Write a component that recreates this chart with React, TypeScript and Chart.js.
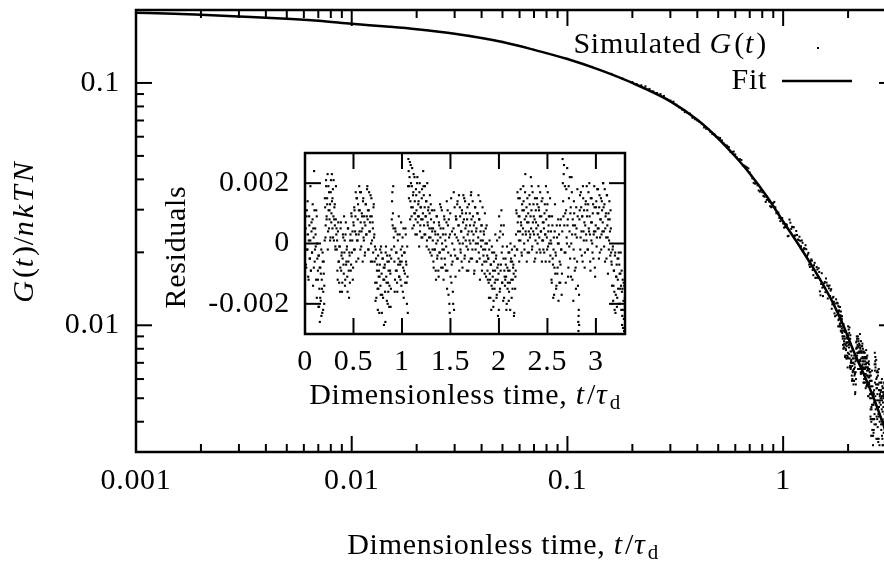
import React, { useEffect, useRef } from "react";
import { Chart, registerables } from "chart.js";

Chart.register(...registerables);

// ---- main panel: relaxation modulus and its fit (log-log) ----
const xTickValues = [0.001, 0.01, 0.1, 1];
const xTickLabels = ["0.001", "0.01", "0.1", "1"];
const yTickValues = [0.01, 0.1];
const yTickLabels = ["0.01", "0.1"];

// fitted curve, (t/τd, G/nkTN)
const fitTime = [
  0.001, 0.0015, 0.002, 0.003, 0.005, 0.007, 0.01, 0.015, 0.02, 0.03, 0.05, 0.07, 0.1, 0.14, 0.2, 0.3,
  0.4, 0.5, 0.6, 0.7, 0.85, 1.0, 1.2, 1.45, 1.7, 1.9, 2.1, 2.4, 2.7, 3.0, 3.3,
];
const fitValue = [
  0.195, 0.193, 0.191, 0.188, 0.184, 0.1805, 0.1755, 0.1705, 0.1665, 0.1595, 0.1475, 0.137, 0.1255, 0.1135,
  0.1, 0.084, 0.0705, 0.059, 0.0497, 0.0423, 0.0335, 0.0268, 0.021, 0.016, 0.0124, 0.01, 0.008, 0.0061,
  0.0047, 0.0036, 0.0027,
];

// simulated modulus, (t/τd, G/nkTN): sample set 1
const simulatedSet1: [number, number][] = [
  [0.001, 0.1948], [0.002, 0.1912], [0.004, 0.1858], [0.007, 0.1807], [0.012, 0.1733], [0.02, 0.1668],
  [0.035, 0.1566], [0.05, 0.1478], [0.07, 0.1368], [0.1, 0.1258], [0.13, 0.1165], [0.16, 0.109], [0.18, 0.1042],
  [0.2, 0.1008], [0.22, 0.0978], [0.24, 0.0945], [0.26, 0.0909], [0.28, 0.0884], [0.3, 0.0846], [0.32, 0.0813],
  [0.34, 0.0776], [0.36, 0.0752], [0.38, 0.0718], [0.4, 0.07], [0.42, 0.0679], [0.44, 0.0647], [0.46, 0.0628],
  [0.48, 0.0614], [0.5, 0.0596], [0.52, 0.0579], [0.54, 0.0555], [0.56, 0.0544], [0.58, 0.0519], [0.6, 0.0507],
  [0.62, 0.0484], [0.64, 0.0481], [0.66, 0.0456], [0.68, 0.0448], [0.7, 0.0427], [0.72, 0.0404], [0.74, 0.0384],
  [0.76, 0.0378], [0.78, 0.0356], [0.8, 0.0354], [0.82, 0.0339], [0.84, 0.0329], [0.86, 0.0324], [0.88, 0.0307],
  [0.9, 0.032], [0.92, 0.0307], [0.94, 0.0291], [0.96, 0.0277], [0.98, 0.0275], [1.0, 0.0263],
  [1.02, 0.0254], [1.04, 0.026], [1.06, 0.0234], [1.08, 0.0265], [1.1, 0.0255], [1.12, 0.0254], [1.14, 0.0235],
  [1.16, 0.0236], [1.18, 0.0225], [1.2, 0.0223], [1.22, 0.0224], [1.24, 0.0204], [1.26, 0.0207], [1.28, 0.0206],
  [1.3, 0.0196], [1.32, 0.0178], [1.34, 0.0184], [1.36, 0.0185], [1.38, 0.0161], [1.4, 0.0181], [1.42, 0.0157],
  [1.44, 0.017], [1.46, 0.0172], [1.48, 0.0138], [1.5, 0.0148], [1.52, 0.0143], [1.54, 0.0144], [1.56, 0.0151],
  [1.58, 0.0156], [1.6, 0.0146], [1.62, 0.0145], [1.64, 0.0146], [1.66, 0.0139], [1.68, 0.0117], [1.7, 0.013],
  [1.72, 0.0125], [1.74, 0.0109], [1.76, 0.0128], [1.78, 0.0124], [1.8, 0.0099],
  [1.81, 0.0114], [1.82, 0.0115], [1.83, 0.0101], [1.84, 0.0102], [1.85, 0.0095], [1.86, 0.0109], [1.87, 0.0097],
  [1.88, 0.0093], [1.89, 0.0088], [1.9, 0.0098], [1.91, 0.0081], [1.92, 0.0084], [1.93, 0.0094], [1.94, 0.0075],
  [1.95, 0.008], [1.96, 0.0085], [1.97, 0.0089], [1.98, 0.0075], [1.99, 0.0067], [2.0, 0.0099], [2.01, 0.0073],
  [2.02, 0.0081], [2.03, 0.0098], [2.04, 0.0067], [2.05, 0.0091], [2.06, 0.007], [2.07, 0.0072], [2.08, 0.0062],
  [2.09, 0.0068], [2.1, 0.0064], [2.11, 0.007], [2.12, 0.0057], [2.13, 0.0066], [2.14, 0.0062], [2.15, 0.0067],
  [2.16, 0.0053], [2.17, 0.0064], [2.18, 0.0085], [2.19, 0.0081], [2.2, 0.0088], [2.21, 0.0081], [2.22, 0.009],
  [2.23, 0.0077], [2.24, 0.0082], [2.25, 0.0084], [2.26, 0.0069], [2.27, 0.0092], [2.28, 0.008], [2.29, 0.0064],
  [2.3, 0.0077], [2.31, 0.0082], [2.32, 0.0068], [2.33, 0.0084], [2.34, 0.0071], [2.35, 0.0077], [2.36, 0.0066],
  [2.37, 0.0058], [2.38, 0.0073], [2.39, 0.0077], [2.4, 0.0067], [2.41, 0.0073], [2.42, 0.0069], [2.43, 0.0056],
  [2.44, 0.0073], [2.45, 0.0065], [2.46, 0.0056], [2.47, 0.0067], [2.48, 0.0051], [2.49, 0.0058], [2.5, 0.0069],
  [2.51, 0.0061], [2.52, 0.0064], [2.53, 0.005], [2.54, 0.0042], [2.55, 0.0062], [2.56, 0.0035], [2.57, 0.0045],
  [2.58, 0.0065], [2.59, 0.0037], [2.6, 0.0041], [2.61, 0.0032], [2.62, 0.0053], [2.63, 0.0037], [2.64, 0.0048],
  [2.65, 0.0039], [2.66, 0.0077], [2.67, 0.0071], [2.68, 0.0067], [2.69, 0.0049], [2.7, 0.0072], [2.71, 0.0055],
  [2.72, 0.0061], [2.73, 0.0041], [2.74, 0.0057], [2.75, 0.0062], [2.76, 0.0033], [2.77, 0.0042], [2.78, 0.0054],
  [2.79, 0.0028], [2.8, 0.0048], [2.81, 0.0052], [2.82, 0.0013], [2.83, 0.005], [2.84, 0.0058], [2.85, 0.0037],
  [2.86, 0.005], [2.87, 0.006], [2.88, 0.0051], [2.89, 0.0032], [2.9, 0.0053], [2.91, 0.004], [2.92, 0.0052],
  [2.93, 0.0058], [2.94, 0.0029], [2.95, 0.0053], [2.96, 0.0037], [2.97, 0.0032], [2.98, 0.0049], [2.99, 0.0025],
  [3.0, 0.0042], [3.01, 0.005], [3.02, 0.0053], [3.03, 0.004], [3.04, 0.0032], [3.05, 0.0049], [3.06, 0.0037],
  [3.07, 0.0054], [3.08, 0.0037], [3.09, 0.0027], [3.1, 0.0042], [3.11, 0.0048], [3.12, 0.0022], [3.13, 0.0042],
  [3.14, 0.0039], [3.15, 0.0036], [3.16, 0.0025],
];

// simulated modulus: sample set 2
const simulatedSet2: [number, number][] = [
  [0.21, 0.0987], [0.23, 0.0968], [0.25, 0.0923], [0.27, 0.09], [0.29, 0.0858], [0.31, 0.0837], [0.33, 0.0793],
  [0.35, 0.0758], [0.37, 0.0747], [0.39, 0.0708], [0.41, 0.069], [0.43, 0.0655], [0.45, 0.0646], [0.47, 0.0615],
  [0.49, 0.0599], [0.51, 0.0593], [0.53, 0.0562], [0.55, 0.0551], [0.57, 0.052], [0.59, 0.0521], [0.61, 0.0493],
  [0.63, 0.0485], [0.65, 0.0457], [0.67, 0.0452], [0.69, 0.0444], [0.71, 0.0416], [0.73, 0.0387], [0.75, 0.0387],
  [0.77, 0.036], [0.79, 0.0361], [0.81, 0.0342], [0.83, 0.0323], [0.85, 0.0332], [0.87, 0.031], [0.89, 0.0309],
  [0.91, 0.0323], [0.93, 0.029], [0.95, 0.0292], [0.97, 0.0269], [0.99, 0.0277],
  [1.01, 0.0253], [1.03, 0.0261], [1.05, 0.0233], [1.07, 0.0273], [1.09, 0.025], [1.11, 0.0254], [1.13, 0.0234],
  [1.15, 0.0245], [1.17, 0.0226], [1.19, 0.0232], [1.21, 0.0212], [1.23, 0.0219], [1.25, 0.0208], [1.27, 0.0214],
  [1.29, 0.0193], [1.31, 0.0199], [1.33, 0.0174], [1.35, 0.0187], [1.37, 0.0169], [1.39, 0.0177], [1.41, 0.0157],
  [1.43, 0.0174], [1.45, 0.0157], [1.47, 0.0166], [1.49, 0.0133], [1.51, 0.0164], [1.53, 0.0132], [1.55, 0.0149],
  [1.57, 0.0137], [1.59, 0.015], [1.61, 0.0129], [1.63, 0.0142], [1.65, 0.0132], [1.67, 0.0141], [1.69, 0.0122],
  [1.71, 0.0131], [1.73, 0.0112], [1.75, 0.0123], [1.77, 0.011], [1.79, 0.0123],
  [1.805, 0.0105], [1.815, 0.0115], [1.825, 0.0099], [1.835, 0.0119], [1.845, 0.011], [1.855, 0.0099],
  [1.865, 0.0104], [1.875, 0.0109], [1.885, 0.009], [1.895, 0.0083], [1.905, 0.0101], [1.915, 0.0086],
  [1.925, 0.009], [1.935, 0.0074], [1.945, 0.0094], [1.955, 0.0079], [1.965, 0.0084], [1.975, 0.0073],
  [1.985, 0.0088], [1.995, 0.0077], [2.005, 0.0091], [2.015, 0.0083], [2.025, 0.0093], [2.035, 0.0073],
  [2.045, 0.0088], [2.055, 0.0066], [2.065, 0.0071], [2.075, 0.0075], [2.085, 0.0059], [2.095, 0.008],
  [2.105, 0.0065], [2.115, 0.007], [2.125, 0.0059], [2.135, 0.0075], [2.145, 0.0064], [2.155, 0.0052],
  [2.165, 0.0071], [2.175, 0.006], [2.185, 0.0072], [2.195, 0.009], [2.205, 0.0077], [2.215, 0.0081],
  [2.225, 0.0066], [2.235, 0.0086], [2.245, 0.0071], [2.255, 0.0077], [2.265, 0.0066], [2.275, 0.0081],
  [2.285, 0.0071], [2.295, 0.0086], [2.305, 0.0078], [2.315, 0.0064], [2.325, 0.0082], [2.335, 0.0069],
  [2.345, 0.0073], [2.355, 0.0058], [2.365, 0.0078], [2.375, 0.0063], [2.385, 0.0069], [2.395, 0.0058],
  [2.405, 0.0074], [2.415, 0.0063], [2.425, 0.0079], [2.435, 0.007], [2.445, 0.0057], [2.455, 0.0075],
  [2.465, 0.0062], [2.475, 0.0066], [2.485, 0.0051], [2.495, 0.0071], [2.505, 0.0057], [2.515, 0.0062],
  [2.525, 0.0052], [2.535, 0.0064], [2.545, 0.0041], [2.555, 0.0059], [2.565, 0.0046], [2.575, 0.005],
  [2.585, 0.0035], [2.595, 0.0056], [2.605, 0.0041], [2.615, 0.0047], [2.625, 0.0036], [2.635, 0.0052],
  [2.645, 0.0041], [2.655, 0.0069], [2.665, 0.0058], [2.675, 0.0074], [2.685, 0.0045], [2.695, 0.0057],
  [2.705, 0.0034], [2.715, 0.0064], [2.725, 0.0046], [2.735, 0.0052], [2.745, 0.0034], [2.755, 0.0064],
  [2.765, 0.0043], [2.775, 0.0066], [2.785, 0.0054], [2.795, 0.0032], [2.805, 0.0051], [2.815, 0.0028],
  [2.825, 0.0018], [2.835, 0.0053], [2.845, 0.0039], [2.855, 0.0058], [2.865, 0.0045], [2.875, 0.0049],
  [2.885, 0.0034], [2.895, 0.0055], [2.905, 0.004], [2.915, 0.0046], [2.925, 0.0036], [2.935, 0.0051],
  [2.945, 0.0041], [2.955, 0.0057], [2.965, 0.0048], [2.975, 0.0035], [2.985, 0.0054], [2.995, 0.004],
];

// simulated modulus: sample set 3 (late times)
const simulatedSet3: [number, number][] = [
  [1.8025, 0.012], [1.8125, 0.0106], [1.8225, 0.0119], [1.8325, 0.0099], [1.8425, 0.0108], [1.8525, 0.0114],
  [1.8625, 0.0094], [1.8725, 0.0106], [1.8825, 0.0095], [1.8925, 0.009], [1.9025, 0.008], [1.9125, 0.0095],
  [1.9225, 0.0081], [1.9325, 0.0088], [1.9425, 0.0083], [1.9525, 0.0094], [1.9625, 0.0073], [1.9725, 0.0082],
  [1.9825, 0.0085], [1.9925, 0.0074], [2.0025, 0.0085], [2.0125, 0.0096], [2.0225, 0.0076], [2.0325, 0.0084],
  [2.0425, 0.0068], [2.0525, 0.0078], [2.0625, 0.0067], [2.0725, 0.0078], [2.0825, 0.007], [2.0925, 0.006],
  [2.1025, 0.0073], [2.1125, 0.0065], [2.1225, 0.0073], [2.1325, 0.0059], [2.1425, 0.0069], [2.1525, 0.0063],
  [2.1625, 0.0073], [2.1725, 0.0057], [2.1825, 0.008], [2.1925, 0.0086], [2.2025, 0.0075], [2.2125, 0.0083],
  [2.2225, 0.0077], [2.2325, 0.0088], [2.2425, 0.007], [2.2525, 0.0078], [2.2625, 0.0083], [2.2725, 0.0072],
  [2.2825, 0.0078], [2.2925, 0.0063], [2.3025, 0.0073], [2.3125, 0.0078], [2.3225, 0.0067], [2.3325, 0.0074],
  [2.3425, 0.008], [2.3525, 0.0067], [2.3625, 0.0071], [2.3725, 0.006], [2.3825, 0.0074], [2.3925, 0.0066],
  [2.4025, 0.0071], [2.4125, 0.0055], [2.4225, 0.0067], [2.4325, 0.0074], [2.4425, 0.0062], [2.4525, 0.0067],
  [2.4625, 0.0057], [2.4725, 0.007], [2.4825, 0.0061], [2.4925, 0.0065], [2.5025, 0.0058], [2.5125, 0.0066],
  [2.5225, 0.0059], [2.5325, 0.0052], [2.5425, 0.0045], [2.5525, 0.0056], [2.5625, 0.004], [2.5725, 0.0059],
  [2.5825, 0.0047], [2.5925, 0.0041], [2.6025, 0.0052], [2.6125, 0.0035], [2.6225, 0.0047], [2.6325, 0.0041],
  [2.6425, 0.0054], [2.6525, 0.0043], [2.6625, 0.0065], [2.6725, 0.0051], [2.6825, 0.0069], [2.6925, 0.0039],
  [2.7025, 0.006], [2.7125, 0.0042], [2.7225, 0.0055], [2.7325, 0.0065], [2.7425, 0.0038], [2.7525, 0.0049],
  [2.7625, 0.0057], [2.7725, 0.0034], [2.7825, 0.0046], [2.7925, 0.0058], [2.8025, 0.004], [2.8125, 0.0049],
  [2.8225, 0.0022], [2.8325, 0.0047], [2.8425, 0.0054], [2.8525, 0.0041], [2.8625, 0.0051], [2.8725, 0.0035],
  [2.8825, 0.0056], [2.8925, 0.0044], [2.9025, 0.0048], [2.9125, 0.0032], [2.9225, 0.005], [2.9325, 0.004],
  [2.9425, 0.0055], [2.9525, 0.0043], [2.9625, 0.0033], [2.9725, 0.0049], [2.9825, 0.0038], [2.9925, 0.0044],
];

// ---- inset: fit residuals ----
const insetXTickValues = [0, 0.5, 1, 1.5, 2, 2.5, 3];
const insetXTickLabels = ["0", "0.5", "1", "1.5", "2", "2.5", "3"];
const insetYTickValues = [-0.002, 0, 0.002];
const insetYTickLabels = ["-0.002", "0", "0.002"];

// (t/τd, residual × 10³): sample set 1
const residualsSet1: [number, number][] = [
  [0.004, 0.3], [0.01, -0.7], [0.016, 0.9], [0.022, -0.2], [0.027, 1.4], [0.033, -1.1], [0.039, 0.1], [0.045, 0.6],
  [0.05, -0.5], [0.056, 1.9], [0.061, -0.9], [0.067, 0.4], [0.072, -0.3], [0.078, 0.8], [0.083, -1.4], [0.089, 0.2],
  [0.094, 2.4], [0.1, -0.6], [0.105, 0.5], [0.111, -0.1], [0.116, 1.1], [0.122, -1.8], [0.127, 0.0],
  [0.133, -0.9], [0.138, -2.1], [0.143, -0.4], [0.148, -1.5], [0.153, -2.6], [0.158, -0.8], [0.163, -1.9],
  [0.168, -0.2], [0.173, -1.2], [0.178, -2.3], [0.183, -0.6], [0.188, -1.6], [0.193, -1.0], [0.198, -2.0], [0.203, 0.1],
  [0.208, 1.2], [0.213, 0.6], [0.218, 1.9], [0.223, 0.9], [0.228, 1.5], [0.233, 2.3], [0.238, 0.4], [0.243, 1.1],
  [0.248, 1.7], [0.253, 0.8], [0.258, 1.3], [0.263, 0.2], [0.268, 2.1], [0.273, 1.0], [0.278, 1.4], [0.283, 0.5],
  [0.288, 1.8], [0.293, 0.9], [0.298, 0.1], [0.303, 1.2], [0.308, 0.6], [0.313, -0.1], [0.318, 0.8], [0.323, 0.3],
  [0.328, -0.2], [0.334, -0.9], [0.34, 0.4], [0.346, -0.6], [0.352, -1.3], [0.358, -0.1], [0.364, -0.8], [0.37, 0.7],
  [0.376, -0.4], [0.382, -1.6], [0.388, -0.5], [0.394, 0.2], [0.4, -1.0], [0.406, -0.3], [0.412, -1.4], [0.418, 0.3],
  [0.424, -0.7], [0.43, -0.2], [0.436, -1.1], [0.442, 0.5], [0.448, -0.6], [0.454, -1.8], [0.46, -0.4], [0.466, 0.1],
  [0.472, -0.9], [0.478, 1.0], [0.484, -0.3], [0.49, 0.4], [0.496, -0.8],
  [0.502, 0.6], [0.508, 1.2], [0.514, -0.2], [0.52, 0.9], [0.526, 0.3], [0.532, 1.5], [0.538, 0.1], [0.544, 0.8],
  [0.55, -0.5], [0.556, 1.1], [0.562, 0.4], [0.568, 1.7], [0.574, 0.7], [0.58, -0.1], [0.586, 1.0], [0.592, 0.5],
  [0.598, 1.4], [0.604, 0.2], [0.61, 0.9], [0.616, -0.4], [0.622, 0.6], [0.628, 1.3], [0.634, 0.3], [0.64, 1.8],
  [0.646, 0.8], [0.652, -0.2], [0.658, 1.1], [0.664, 0.4], [0.67, 0.7], [0.676, 1.6], [0.682, 0.0], [0.688, 0.9],
  [0.694, -0.6], [0.7, 0.5], [0.706, 1.2], [0.712, 0.2],
  [0.718, -0.6], [0.724, -1.3], [0.73, -0.2], [0.736, -1.8], [0.742, -0.9], [0.748, -1.5], [0.754, -0.4], [0.76, -1.1],
  [0.766, -2.3], [0.772, -0.7], [0.778, -1.4], [0.784, -0.1], [0.79, -1.0], [0.796, -1.7], [0.802, -0.5], [0.808, -1.2],
  [0.814, -2.7], [0.82, -0.8], [0.826, -1.6], [0.832, -0.3], [0.838, -1.1], [0.844, -1.9], [0.85, -0.6], [0.856, -1.3],
  [0.862, -0.9], [0.868, -2.1], [0.874, -0.4], [0.88, -1.0], [0.886, -1.5], [0.892, -0.2],
  [0.898, 1.4], [0.904, 0.6], [0.91, 1.9], [0.916, 0.2], [0.922, -0.6], [0.928, -1.2], [0.934, 0.4], [0.94, -0.3],
  [0.946, -0.9], [0.952, -1.6], [0.958, 0.1], [0.964, -0.5], [0.97, -1.1], [0.976, 0.3], [0.982, -0.7], [0.988, -0.2],
  [0.994, -1.4], [1.0, -0.4], [1.006, 0.2], [1.012, -0.8], [1.018, -1.8], [1.024, -0.3], [1.03, -1.0], [1.036, 0.5],
  [1.042, -0.6], [1.048, -1.3], [1.054, -0.1], [1.06, -2.3],
  [1.066, 2.8], [1.072, 1.5], [1.078, 2.2], [1.084, 0.8], [1.09, 2.6], [1.096, 1.2], [1.102, 1.9], [1.108, 0.5],
  [1.114, 1.6], [1.12, 2.3], [1.126, 1.0], [1.132, 1.4], [1.138, 0.3], [1.144, 1.8], [1.15, 1.1], [1.156, 2.0],
  [1.162, 0.7], [1.168, 1.3], [1.174, 0.9], [1.18, 1.7], [1.186, 0.4], [1.192, 1.2], [1.198, 0.8], [1.204, 1.5],
  [1.21, 0.2], [1.216, 1.0], [1.222, 1.9], [1.228, 0.6], [1.234, 1.2], [1.24, 0.3], [1.246, 0.9], [1.252, 1.4],
  [1.258, 0.1], [1.264, 0.7], [1.27, 1.1], [1.276, -0.2], [1.282, 0.5], [1.288, 1.6], [1.294, 0.2], [1.3, 0.8],
  [1.306, -0.4], [1.312, 0.4],
  [1.318, 0.1], [1.324, -0.6], [1.33, 0.7], [1.336, -0.2], [1.342, 0.4], [1.348, -0.9], [1.354, 0.0], [1.36, 0.9],
  [1.366, -0.4], [1.372, 0.3], [1.378, -1.1], [1.384, 0.6], [1.39, -0.3], [1.396, 0.2], [1.402, 1.2], [1.408, -0.5],
  [1.414, 0.0], [1.42, -0.8], [1.426, 0.5], [1.432, -0.2], [1.438, 0.8], [1.444, -0.7], [1.45, 0.3], [1.456, -0.1],
  [1.462, 1.4], [1.468, -0.9], [1.474, 0.6], [1.48, -1.7], [1.486, 0.2], [1.492, -2.3], [1.498, 1.0], [1.504, -0.4],
  [1.51, -1.3], [1.516, 0.4], [1.522, -0.6], [1.528, -2.0], [1.534, 1.7], [1.54, -0.2], [1.546, 0.3], [1.552, -1.1],
  [1.558, 0.8], [1.564, 0.2], [1.57, 1.3], [1.576, -0.5], [1.582, 0.6], [1.588, 1.6], [1.594, 0.0], [1.6, 0.9],
  [1.606, -0.3], [1.612, 0.4], [1.618, 1.1], [1.624, -0.8], [1.63, 0.7], [1.636, 0.2], [1.642, 1.5], [1.648, -0.4],
  [1.654, 0.5], [1.66, 1.0], [1.666, -0.1], [1.672, 0.8], [1.678, 0.3], [1.684, -0.9], [1.69, 1.3], [1.696, 0.1],
  [1.702, 0.6], [1.708, -0.5], [1.714, 1.7], [1.72, 0.4], [1.726, -0.2], [1.732, 0.9], [1.738, 0.3], [1.744, -1.0],
  [1.75, 0.7], [1.756, 1.2], [1.762, 0.0], [1.768, 0.5], [1.774, -0.6], [1.78, 1.0], [1.786, 0.2], [1.792, -0.3],
  [1.798, 0.8], [1.804, -1.2], [1.81, 0.4], [1.816, -0.1], [1.822, 0.6], [1.828, -0.7], [1.834, 0.1], [1.84, -0.4],
  [1.846, 0.3], [1.852, -1.0], [1.858, -0.2], [1.864, 0.5], [1.87, -0.6], [1.876, 0.0], [1.882, -0.9],
  [1.888, -0.5], [1.894, -1.3], [1.9, -0.2], [1.906, -1.0], [1.912, -1.8], [1.918, -0.7], [1.924, -1.4], [1.93, -0.3],
  [1.936, -1.1], [1.942, -2.1], [1.948, -0.6], [1.954, -1.5], [1.96, -0.9], [1.966, -1.2], [1.972, -0.4], [1.978, -1.7],
  [1.984, -0.8], [1.99, -2.4], [1.996, -1.0], [2.002, 0.9], [2.008, -1.6], [2.014, 0.4], [2.02, -0.7], [2.026, 1.1],
  [2.032, -1.3], [2.038, -0.1], [2.044, -1.9], [2.05, 0.6], [2.056, -0.9], [2.062, -1.4], [2.068, -0.5], [2.074, -1.1],
  [2.08, -2.0], [2.086, -0.8], [2.092, -1.3], [2.098, -0.3], [2.104, -1.6], [2.11, -0.9], [2.116, -2.2], [2.122, -0.6],
  [2.128, -1.2], [2.134, -0.2], [2.14, -1.5], [2.146, -0.8], [2.152, -1.0], [2.158, -2.3], [2.164, -0.4], [2.17, -1.1],
  [2.176, 0.3], [2.182, 1.0], [2.188, -0.2], [2.194, 0.7], [2.2, 1.5], [2.206, 0.1], [2.212, 0.9], [2.218, 0.4],
  [2.224, 1.8], [2.23, 0.6], [2.236, -0.4], [2.242, 1.1], [2.248, 0.5], [2.254, 1.4], [2.26, 0.0], [2.266, 0.8],
  [2.272, 2.3], [2.278, 0.3], [2.284, 1.2], [2.29, 0.7], [2.296, -0.3], [2.302, 1.0], [2.308, 0.4], [2.314, 1.6],
  [2.32, 0.2], [2.326, 0.9], [2.332, 0.5], [2.338, 1.9], [2.344, -0.1], [2.35, 0.7], [2.356, 1.3], [2.362, 0.3],
  [2.368, 0.8], [2.374, -0.5], [2.38, 1.1], [2.386, 0.5], [2.392, 1.5], [2.398, 0.0], [2.404, 0.6], [2.41, 1.2],
  [2.416, 0.2], [2.422, 0.9], [2.428, -0.3], [2.434, 0.4], [2.44, 1.4], [2.446, 0.1], [2.452, 0.7], [2.458, -0.2],
  [2.464, 0.5], [2.47, 1.0], [2.476, 0.3], [2.482, -0.6], [2.488, 0.8], [2.494, 0.2], [2.5, 1.3], [2.506, -0.1],
  [2.512, 0.6], [2.518, 0.0], [2.524, 0.9], [2.53, -0.4],
  [2.536, 0.4], [2.542, -1.2], [2.548, 0.9], [2.554, -0.5], [2.56, -1.8], [2.566, 0.2], [2.572, -0.8], [2.578, 1.3],
  [2.584, -0.3], [2.59, -1.5], [2.596, 0.6], [2.602, -1.0], [2.608, 0.0], [2.614, -1.9], [2.62, 0.3], [2.626, -0.6],
  [2.632, -1.3], [2.638, 0.8], [2.644, -0.2], [2.65, -1.0],
  [2.656, 2.8], [2.662, 1.4], [2.668, 2.3], [2.674, 0.6], [2.68, 1.9], [2.686, -0.3], [2.692, 1.1], [2.698, 0.2],
  [2.704, 2.5], [2.71, 0.8], [2.716, -0.8], [2.722, 1.5], [2.728, 0.4], [2.734, -0.5], [2.74, 1.2], [2.746, 0.0],
  [2.752, 1.7], [2.758, -1.2], [2.764, 0.6], [2.77, -0.2], [2.776, 1.0], [2.782, -0.9], [2.788, 0.3], [2.794, -1.5],
  [2.8, 0.5], [2.806, -0.6], [2.812, 0.9], [2.818, -2.6], [2.82, -2.9], [2.823, -2.2], [2.826, -1.7],
  [2.83, 0.8], [2.836, 1.6], [2.842, 0.2], [2.848, 1.2], [2.854, -0.4], [2.86, 0.9], [2.866, 1.9], [2.872, 0.4],
  [2.878, 1.1], [2.884, -0.8], [2.89, 0.6], [2.896, 1.4], [2.902, 0.1], [2.908, 0.9], [2.914, -0.2], [2.92, 1.3],
  [2.926, 0.5], [2.932, 2.0], [2.938, 0.3], [2.944, -0.9], [2.95, 0.7], [2.956, 1.5], [2.962, 0.0], [2.968, 1.0],
  [2.974, -0.5], [2.98, 0.4], [2.986, 1.2], [2.992, -1.1],
  [2.998, 0.6], [3.004, 1.4], [3.01, 0.2], [3.016, 1.0], [3.022, 1.8], [3.028, 0.5], [3.034, 1.2], [3.04, -0.3],
  [3.046, 0.8], [3.052, 1.5], [3.058, 0.3], [3.064, 1.1], [3.07, 0.7], [3.076, 2.0], [3.082, 0.4], [3.088, 1.3],
  [3.094, -0.6], [3.1, 0.9], [3.106, 0.2], [3.112, 1.6], [3.118, 0.6], [3.124, -1.0], [3.13, 1.0], [3.136, 0.1],
  [3.142, 0.8], [3.148, -0.4], [3.154, 0.5],
  [3.16, -0.6], [3.166, -1.4], [3.172, -0.2], [3.178, -1.9], [3.184, -0.9], [3.19, -1.6], [3.196, -0.4], [3.202, -2.3],
  [3.208, -1.1], [3.214, -0.7], [3.22, -1.8], [3.226, -1.2], [3.232, -0.5], [3.238, -2.0], [3.244, -1.0], [3.25, -1.5],
  [3.256, -0.3], [3.262, -2.2], [3.268, -1.6], [3.272, -2.4], [3.276, -1.2], [3.28, -2.8], [3.284, -1.9], [3.288, -2.5],
  [3.292, -1.4], [3.296, -3.0], [3.299, -2.1],
];

// (t/τd, residual × 10³): sample set 2
const residualsSet2: [number, number][] = [
  [0.007, 0.5], [0.013, -0.8], [0.019, 1.1], [0.025, -0.2], [0.031, 0.3], [0.037, -1.2], [0.043, 0.9], [0.049, -0.5],
  [0.055, 0.1], [0.061, -0.9], [0.067, 0.7], [0.073, -0.3], [0.079, 1.3], [0.085, 0.5], [0.091, -0.8], [0.097, 1.1],
  [0.103, -0.2], [0.109, 0.3], [0.115, -1.2], [0.121, 0.9], [0.127, -0.5],
  [0.133, -1.2], [0.139, -0.4], [0.145, -2.1], [0.151, -0.8], [0.157, -1.8], [0.163, -1.0], [0.169, -2.4],
  [0.175, -1.5], [0.181, -0.3], [0.187, -2.2], [0.193, -0.6], [0.199, -1.4],
  [0.205, 1.5], [0.211, 0.2], [0.217, 2.1], [0.223, 0.8], [0.229, 1.3], [0.235, -0.2], [0.241, 1.9], [0.247, 0.5],
  [0.253, 1.1], [0.259, 0.1], [0.265, 1.7], [0.271, 0.7], [0.277, 2.3], [0.283, 1.5], [0.289, 0.2], [0.295, 2.1],
  [0.301, 0.8], [0.307, 1.3], [0.313, -0.2], [0.319, 1.9], [0.325, 0.5],
  [0.331, 0.1], [0.337, -1.2], [0.343, 0.7], [0.349, -0.6], [0.355, -0.1], [0.361, -1.6], [0.367, 0.5], [0.373, -0.9],
  [0.379, -0.3], [0.385, -1.3], [0.391, 0.3], [0.397, -0.7], [0.403, 0.9], [0.409, 0.1], [0.415, -1.2], [0.421, 0.7],
  [0.427, -0.6], [0.433, -0.1], [0.439, -1.6], [0.445, 0.5], [0.451, -0.9], [0.457, -0.3], [0.463, -1.3], [0.469, 0.3],
  [0.475, -0.7], [0.481, 0.9], [0.487, 0.1], [0.493, -1.2], [0.499, 0.7],
  [0.505, -0.2], [0.511, 1.1], [0.517, 0.4], [0.523, 1.7], [0.529, -0.6], [0.535, 1.5], [0.541, 0.1], [0.547, 1.3],
  [0.553, 0.3], [0.559, 1.9], [0.565, 1.1], [0.571, -0.2], [0.577, 1.7], [0.583, 0.4], [0.589, 0.9], [0.595, -0.6],
  [0.601, 1.5], [0.607, 0.1], [0.613, 0.7], [0.619, -0.3], [0.625, 1.3], [0.631, 0.3], [0.637, 0.9], [0.643, 1.9],
  [0.649, 1.1], [0.655, -0.2], [0.661, 1.7], [0.667, 0.4], [0.673, 0.9], [0.679, -0.6], [0.685, 1.5], [0.691, 0.1],
  [0.697, 0.7], [0.703, -0.3], [0.709, 1.3], [0.715, 0.3],
  [0.721, -0.1], [0.727, -1.9], [0.733, -0.5], [0.739, -1.3], [0.745, -0.7], [0.751, -2.2], [0.757, -1.5],
  [0.763, -0.9], [0.769, -1.1], [0.775, -0.2], [0.781, -1.7], [0.787, -0.3], [0.793, -2.3], [0.799, -0.5],
  [0.805, -1.8], [0.811, -0.8], [0.817, -1.2], [0.823, -0.7], [0.829, -2.6], [0.835, -0.1], [0.841, -1.3],
  [0.847, -0.4], [0.853, -2.0], [0.859, -1.6], [0.865, -0.6], [0.871, -1.4], [0.877, -0.9], [0.883, -2.1],
  [0.889, -0.5], [0.895, 0.8],
  [0.901, 1.7], [0.907, 1.0], [0.913, 0.5], [0.919, -0.1], [0.925, -1.6], [0.931, 0.5], [0.937, -0.9], [0.943, -0.3],
  [0.949, -1.3], [0.955, 0.3], [0.961, -0.7], [0.967, 0.9], [0.973, -1.1], [0.979, -0.6], [0.985, -1.2], [0.991, 0.7],
  [0.997, -0.6], [1.003, -0.1], [1.009, -1.6], [1.015, 0.5], [1.021, -0.9], [1.027, -0.3], [1.033, -1.3], [1.039, 0.3],
  [1.045, -0.7], [1.051, -2.0], [1.057, -1.1], [1.063, 1.9],
  [1.069, 2.4], [1.075, 1.9], [1.081, 2.7], [1.087, 1.4], [1.093, 2.0], [1.099, 0.9], [1.105, 2.5], [1.111, 1.2],
  [1.117, 1.7], [1.123, 0.6], [1.129, 2.2], [1.135, 1.0], [1.141, 0.8], [1.147, 1.6], [1.153, 0.3], [1.159, 2.2],
  [1.165, 0.9], [1.171, 1.4], [1.177, -0.1], [1.183, 2.0], [1.189, 0.6], [1.195, 1.2], [1.201, 0.2], [1.207, 1.8],
  [1.213, 0.8], [1.219, 2.4], [1.225, 1.6], [1.231, 0.3], [1.237, 1.9], [1.243, 0.9], [1.249, 1.4], [1.255, -0.1],
  [1.261, 2.0], [1.267, 0.6], [1.273, 1.2], [1.279, 0.2], [1.285, 1.0], [1.291, -0.3], [1.297, 1.3], [1.303, 0.5],
  [1.309, 1.1], [1.315, -0.2],
  [1.321, 0.5], [1.327, -0.8], [1.333, 1.1], [1.339, -0.2], [1.345, 0.3], [1.351, -1.2], [1.357, 0.9], [1.363, -0.5],
  [1.369, 0.1], [1.375, -0.9], [1.381, 0.7], [1.387, -0.3], [1.393, 1.3], [1.399, 0.5], [1.405, -0.8], [1.411, 1.1],
  [1.417, -0.2], [1.423, 0.3], [1.429, -1.2], [1.435, 0.9], [1.441, -0.5], [1.447, 0.1], [1.453, -0.9], [1.459, 0.7],
  [1.465, -1.5], [1.471, 1.1], [1.477, -0.3], [1.483, 0.8], [1.489, -2.0], [1.495, 0.3], [1.501, -1.1], [1.507, 1.5],
  [1.513, -0.7], [1.519, 0.0], [1.525, -1.6], [1.531, 0.5], [1.537, -2.2], [1.543, 1.2], [1.549, -0.4], [1.555, 0.9],
  [1.561, 0.8], [1.567, -0.5], [1.573, 1.4], [1.579, 0.1], [1.585, 0.6], [1.591, -0.9], [1.597, 1.2], [1.603, -0.2],
  [1.609, 0.4], [1.615, -0.6], [1.621, 1.0], [1.627, 0.0], [1.633, 1.6], [1.639, 0.8], [1.645, -0.5], [1.651, 1.4],
  [1.657, 0.1], [1.663, 0.6], [1.669, -0.9], [1.675, 1.2], [1.681, -0.2], [1.687, 0.4], [1.693, -0.6], [1.699, 1.0],
  [1.705, 0.0], [1.711, 1.6], [1.717, 0.8], [1.723, -0.5], [1.729, 1.4], [1.735, 0.1], [1.741, 0.6], [1.747, -0.9],
  [1.753, 1.2], [1.759, -0.2], [1.765, 0.4], [1.771, -0.6], [1.777, 1.0], [1.783, 0.0], [1.789, 1.6], [1.795, 0.8],
  [1.801, -0.5], [1.807, 1.4], [1.813, 0.1], [1.819, 0.6], [1.825, -0.9], [1.831, 1.2], [1.837, -0.2], [1.843, 0.4],
  [1.849, -0.6], [1.855, 1.0], [1.861, 0.0], [1.867, -1.1], [1.873, 0.6], [1.879, -0.4], [1.885, -1.2],
  [1.891, -0.5], [1.897, -1.8], [1.903, 0.1], [1.909, -1.2], [1.915, -0.7], [1.921, -2.2], [1.927, -0.1], [1.933, -1.5],
  [1.939, -0.9], [1.945, -1.9], [1.951, -0.3], [1.957, -1.3], [1.963, 0.3], [1.969, -0.5], [1.975, -1.8], [1.981, 0.1],
  [1.987, -1.2], [1.993, -0.7], [1.999, -2.2], [2.005, 0.2], [2.011, -1.5], [2.017, -0.9], [2.023, 0.6], [2.029, -0.3],
  [2.035, -1.3], [2.041, 0.3], [2.047, -0.5], [2.053, -1.8], [2.059, -1.1], [2.065, -1.2], [2.071, -0.7], [2.077, -2.2],
  [2.083, -0.1], [2.089, -1.5], [2.095, -0.9], [2.101, -1.9], [2.107, -0.3], [2.113, -1.3], [2.119, 0.0], [2.125, -0.5],
  [2.131, -1.8], [2.137, -0.6], [2.143, -1.2], [2.149, -0.7], [2.155, -2.4], [2.161, -0.1], [2.167, -1.5], [2.173, -0.9],
  [2.179, 1.1], [2.185, -0.2], [2.191, 1.7], [2.197, 0.4], [2.203, 0.9], [2.209, -0.6], [2.215, 1.5], [2.221, 0.1],
  [2.227, 0.7], [2.233, -0.3], [2.239, 1.3], [2.245, 0.3], [2.251, 1.9], [2.257, 1.1], [2.263, -0.2], [2.269, 1.7],
  [2.275, 0.4], [2.281, 0.9], [2.287, -0.6], [2.293, 1.5], [2.299, 0.1], [2.305, 0.7], [2.311, -0.3], [2.317, 1.3],
  [2.323, 0.3], [2.329, 2.2], [2.335, 1.1], [2.341, -0.2], [2.347, 1.7], [2.353, 0.4], [2.359, 0.9], [2.365, -0.6],
  [2.371, 1.5], [2.377, 0.1], [2.383, 0.7], [2.389, -0.3], [2.395, 1.3], [2.401, 0.3], [2.407, 1.9], [2.413, 1.1],
  [2.419, -0.2], [2.425, 1.7], [2.431, 0.4], [2.437, 0.9], [2.443, -0.6], [2.449, 1.5], [2.455, 0.1], [2.461, 0.7],
  [2.467, -0.3], [2.473, 1.3], [2.479, 0.3], [2.485, 1.9], [2.491, 1.1], [2.497, -0.2], [2.503, 1.7], [2.509, 0.4],
  [2.515, 0.9], [2.521, -0.6], [2.527, 1.5], [2.533, 0.1],
  [2.539, 0.0], [2.545, -1.3], [2.551, 0.6], [2.557, -0.7], [2.563, -0.2], [2.569, -1.7], [2.575, 0.4], [2.581, -1.0],
  [2.587, -0.4], [2.593, -1.4], [2.599, 0.2], [2.605, -0.8], [2.611, 0.8], [2.617, 0.0], [2.623, -1.3], [2.629, 0.6],
  [2.635, -0.7], [2.641, -0.2], [2.647, -1.7], [2.653, 0.4],
  [2.659, 2.0], [2.665, 0.9], [2.671, 2.6], [2.677, -0.3], [2.683, 1.0], [2.689, -1.3], [2.695, 1.8], [2.701, 0.0],
  [2.707, 0.6], [2.713, -1.1], [2.719, 1.9], [2.725, -0.1], [2.731, 2.2], [2.737, 1.0], [2.743, -1.1], [2.749, 2.2],
  [2.755, 0.3], [2.761, 0.8], [2.767, -1.9], [2.773, 1.4], [2.779, -0.5], [2.785, 0.6], [2.791, -0.8], [2.797, 1.2],
  [2.803, 0.2], [2.809, 1.8], [2.815, -1.4], [2.821, -2.4], [2.827, -2.7],
  [2.833, 1.1], [2.839, -0.2], [2.845, 1.7], [2.851, 0.4], [2.857, 0.9], [2.863, -0.6], [2.869, 1.5], [2.875, 0.1],
  [2.881, 0.7], [2.887, -0.3], [2.893, 1.3], [2.899, 0.3], [2.905, 1.9], [2.911, 1.1], [2.917, -0.2], [2.923, 1.7],
  [2.929, 0.4], [2.935, 0.9], [2.941, -0.6], [2.947, 1.5], [2.953, 0.1], [2.959, 0.7], [2.965, -0.3], [2.971, 1.3],
  [2.977, 0.3], [2.983, 1.9], [2.989, -0.8], [2.995, 0.4],
  [3.001, 1.2], [3.007, -0.1], [3.013, 1.8], [3.019, 0.5], [3.025, 1.0], [3.031, -0.5], [3.037, 1.6], [3.043, 0.2],
  [3.049, 0.8], [3.055, -0.2], [3.061, 1.4], [3.067, 0.4], [3.073, 2.0], [3.079, 1.2], [3.085, -0.1], [3.091, 1.8],
  [3.097, 0.5], [3.103, 1.0], [3.109, -0.5], [3.115, 1.6], [3.121, 0.2], [3.127, 0.8], [3.133, -0.2], [3.139, 1.4],
  [3.145, 0.4], [3.151, 1.1], [3.157, -0.3],
  [3.163, -0.7], [3.169, -2.0], [3.175, -0.1], [3.181, -1.4], [3.187, -0.9], [3.193, -2.2], [3.199, -0.3], [3.205, -1.7],
  [3.211, -1.1], [3.217, -2.1], [3.223, -0.5], [3.229, -1.5], [3.235, -0.3], [3.241, -0.7], [3.247, -2.0], [3.253, -1.0],
  [3.259, -1.4], [3.265, -0.9], [3.27, -2.7], [3.274, -1.5], [3.278, -2.2], [3.286, -1.3], [3.29, -2.9], [3.298, -1.8],
];

// ---- text helpers (mixed roman / math italic / subscript) ----
const FONT = '"Liberation Serif", "Times New Roman", serif';
const SIZE = 30;

type Seg = { s: string; it?: boolean; sub?: boolean };

const segFont = (g: Seg, size: number) =>
  `${g.it ? "italic " : ""}${g.sub ? Math.round(size * 0.7) : size}px ${FONT}`;
const segGap = (g: Seg) => (g.it ? 3 : g.sub ? 0.4 : 0.7);

function richWidth(ctx: CanvasRenderingContext2D, segs: Seg[], size: number) {
  let w = 0;
  for (const g of segs) {
    ctx.font = segFont(g, size);
    for (const ch of g.s) w += ctx.measureText(ch).width + segGap(g);
  }
  return w;
}

function drawRich(
  ctx: CanvasRenderingContext2D,
  segs: Seg[],
  x: number,
  y: number,
  align: "left" | "center" | "right",
  size = SIZE
) {
  const w = richWidth(ctx, segs, size);
  let cx = align === "center" ? x - w / 2 : align === "right" ? x - w : x;
  ctx.textAlign = "left";
  ctx.textBaseline = "middle";
  for (const g of segs) {
    ctx.font = segFont(g, size);
    for (const ch of g.s) {
      ctx.fillText(ch, cx, g.sub ? y + size * 0.25 : y);
      cx += ctx.measureText(ch).width + segGap(g);
    }
  }
}

const timeTitle: Seg[] = [
  { s: "Dimensionless time, " },
  { s: "t", it: true },
  { s: "/" },
  { s: "τ", it: true },
  { s: "d", sub: true },
];
const modulusTitle: Seg[] = [
  { s: "G", it: true },
  { s: "(" },
  { s: "t", it: true },
  { s: ")/" },
  { s: "nkTN", it: true },
];
const simLegend: Seg[] = [{ s: "Simulated " }, { s: "G", it: true }, { s: "(" }, { s: "t", it: true }, { s: ")" }];

function minorLogTicks(min: number, max: number) {
  const out: number[] = [];
  for (let k = -4; k <= 1; k++) {
    for (let m = 2; m <= 9; m++) {
      const v = m * Math.pow(10, k);
      if (v >= min * 0.999 && v <= max * 1.001) out.push(v);
    }
  }
  return out;
}

function line(ctx: CanvasRenderingContext2D, x1: number, y1: number, x2: number, y2: number) {
  ctx.beginPath();
  ctx.moveTo(x1, y1);
  ctx.lineTo(x2, y2);
  ctx.stroke();
}

const X_MIN = 0.001;
const X_MAX = 3.3;
const Y_MIN = 0.003;
const Y_MAX = 0.2;

const mainDecor = {
  id: "mainDecor",
  afterDraw(chart: any) {
    const { ctx, chartArea: a } = chart;
    const xs = chart.scales.x;
    const ys = chart.scales.y;
    ctx.save();
    ctx.strokeStyle = "#000";
    ctx.fillStyle = "#000";
    ctx.lineWidth = 2;
    ctx.lineCap = "butt";

    const major = 16;
    const minor = 8;
    for (const v of minorLogTicks(X_MIN, X_MAX)) {
      const px = xs.getPixelForValue(v);
      line(ctx, px, a.bottom, px, a.bottom - minor);
      line(ctx, px, a.top, px, a.top + minor);
    }
    for (const v of xTickValues) {
      const px = xs.getPixelForValue(v);
      line(ctx, px, a.bottom, px, a.bottom - major);
      line(ctx, px, a.top, px, a.top + major);
    }
    for (const v of minorLogTicks(Y_MIN, Y_MAX)) {
      const py = ys.getPixelForValue(v);
      line(ctx, a.left, py, a.left + minor, py);
      line(ctx, a.right, py, a.right - minor, py);
    }
    for (const v of yTickValues) {
      const py = ys.getPixelForValue(v);
      line(ctx, a.left, py, a.left + major, py);
      line(ctx, a.right, py, a.right - major, py);
    }

    ctx.lineWidth = 2.5;
    ctx.strokeRect(a.left, a.top, a.right - a.left, a.bottom - a.top);

    xTickValues.forEach((v, i) => {
      drawRich(ctx, [{ s: xTickLabels[i] }], xs.getPixelForValue(v), a.bottom + 29, "center");
    });
    yTickValues.forEach((v, i) => {
      drawRich(ctx, [{ s: yTickLabels[i] }], a.left - 16, ys.getPixelForValue(v), "right");
    });

    drawRich(ctx, timeTitle, 503, 546, "center");
    ctx.save();
    ctx.translate(25, (a.top + a.bottom) / 2);
    ctx.rotate(-Math.PI / 2);
    drawRich(ctx, modulusTitle, 0, 0, "center");
    ctx.restore();

    // key
    drawRich(ctx, simLegend, 767, 45, "right");
    ctx.fillRect(817, 47, 2, 2);
    drawRich(ctx, [{ s: "Fit" }], 767, 81, "right");
    ctx.lineWidth = 2.5;
    line(ctx, 782, 81, 852, 81);
    ctx.restore();
  },
};

const I_X_MIN = 0;
const I_X_MAX = 3.3;
const I_Y_MIN = -0.003;
const I_Y_MAX = 0.003;

const insetDecor = {
  id: "insetDecor",
  afterDraw(chart: any) {
    const { ctx, chartArea: a } = chart;
    const xs = chart.scales.x;
    const ys = chart.scales.y;
    ctx.save();
    ctx.strokeStyle = "#000";
    ctx.fillStyle = "#000";
    ctx.lineWidth = 2;
    const len = 16;
    insetXTickValues.forEach((v, i) => {
      const px = xs.getPixelForValue(v);
      if (v > I_X_MIN) {
        line(ctx, px, a.bottom, px, a.bottom - len);
        line(ctx, px, a.top, px, a.top + len);
      }
      drawRich(ctx, [{ s: insetXTickLabels[i] }], px, a.bottom + 28, "center");
    });
    insetYTickValues.forEach((v, i) => {
      const py = ys.getPixelForValue(v);
      line(ctx, a.left, py, a.left + len, py);
      line(ctx, a.right, py, a.right - len, py);
      drawRich(ctx, [{ s: insetYTickLabels[i] }], a.left - 15, py, "right");
    });
    ctx.lineWidth = 2.5;
    ctx.strokeRect(a.left, a.top, a.right - a.left, a.bottom - a.top);

    drawRich(ctx, timeTitle, (a.left + a.right) / 2, 396, "center");
    ctx.save();
    ctx.translate(177, 247);
    ctx.rotate(-Math.PI / 2);
    drawRich(ctx, [{ s: "Residuals" }], 0, 0, "center");
    ctx.restore();
    ctx.restore();
  },
};

const dotStyle = {
  backgroundColor: "#000",
  borderWidth: 0,
  pointStyle: "rect",
  pointRadius: 1.42,
};

export default function App() {
  const mainRef = useRef<HTMLCanvasElement>(null);
  const insetRef = useRef<HTMLCanvasElement>(null);

  useEffect(() => {
    const main = new Chart(mainRef.current!, {
      type: "scatter",
      data: {
        datasets: [
          {
            label: "Fit",
            data: fitTime.map((t, i) => ({ x: t, y: fitValue[i] })),
            showLine: true,
            borderColor: "#000",
            borderWidth: 2.5,
            pointRadius: 0,
            cubicInterpolationMode: "monotone",
          },
          {
            label: "Simulated G(t)",
            data: [...simulatedSet1, ...simulatedSet2, ...simulatedSet3].map(([t, g]) => ({ x: t, y: g })),
            ...dotStyle,
          },
        ],
      },
      options: {
        responsive: false,
        animation: false,
        devicePixelRatio: 1,
        events: [],
        layout: { padding: { left: 136, top: 10, right: 5, bottom: 109 } },
        plugins: { legend: { display: false }, tooltip: { enabled: false } },
        scales: {
          x: { type: "logarithmic", min: X_MIN, max: X_MAX, display: false },
          y: { type: "logarithmic", min: Y_MIN, max: Y_MAX, display: false },
        },
      },
      plugins: [mainDecor],
    } as any);

    const inset = new Chart(insetRef.current!, {
      type: "scatter",
      data: {
        datasets: [
          {
            label: "Residuals",
            data: [...residualsSet1, ...residualsSet2].map(([t, r]) => ({ x: t, y: r / 1000 })),
            ...dotStyle,
            pointRadius: 1.5,
          },
        ],
      },
      options: {
        responsive: false,
        animation: false,
        devicePixelRatio: 1,
        events: [],
        layout: { padding: { left: 305, top: 153, right: 259, bottom: 227 } },
        plugins: { legend: { display: false }, tooltip: { enabled: false } },
        scales: {
          x: { type: "linear", min: I_X_MIN, max: I_X_MAX, display: false },
          y: { type: "linear", min: I_Y_MIN, max: I_Y_MAX, display: false },
        },
      },
      plugins: [insetDecor],
    } as any);

    return () => {
      main.destroy();
      inset.destroy();
    };
  }, []);

  return (
    <div
      style={{
        position: "fixed",
        left: 0,
        top: 0,
        width: 884,
        height: 561,
        overflow: "hidden",
        background: "#fff",
      }}
    >
      <canvas ref={mainRef} width={900} height={561} style={{ position: "absolute", left: 0, top: 0 }} />
      <canvas ref={insetRef} width={884} height={561} style={{ position: "absolute", left: 0, top: 0 }} />
    </div>
  );
}
